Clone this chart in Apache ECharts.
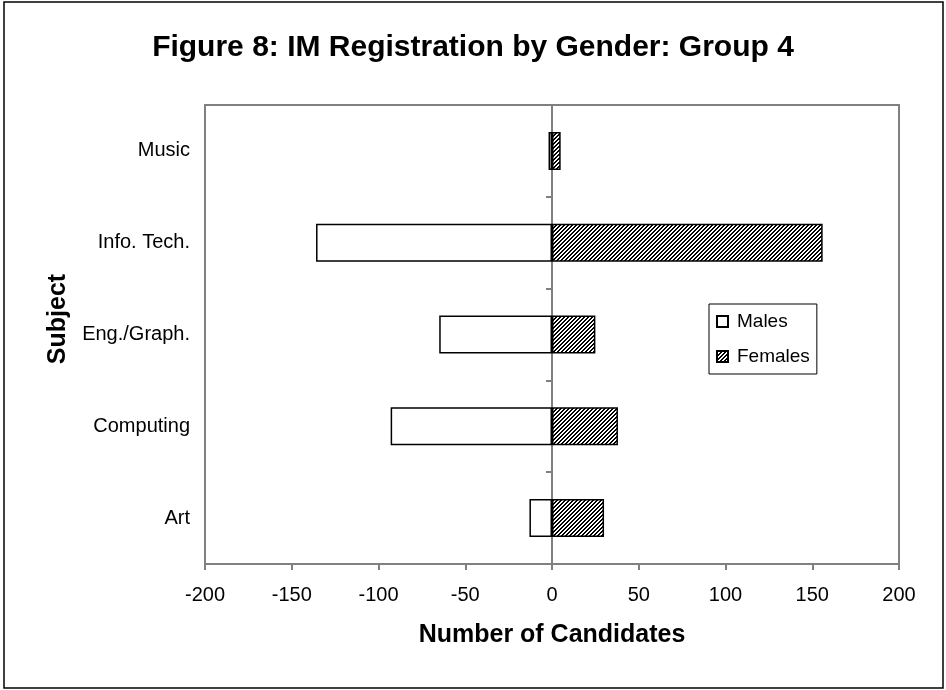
<!DOCTYPE html>
<html><head><meta charset="utf-8">
<script src="https://cdn.jsdelivr.net/npm/echarts@6/dist/echarts.min.js"></script>
<style>html,body{margin:0;padding:0;background:#fff}#c{width:946px;height:690px}</style>
</head><body><div id="c"></div>
<script>
// ---- data ----
const categories = ['Art', 'Computing', 'Eng./Graph.', 'Info. Tech.', 'Music'];
const males = [-13, -93, -65, -136, -2];
const females = [30, 38, 25, 156, 5];
const xMin = -200, xMax = 200, xInterval = 50;

// hatch pattern
function hatch() {
  const c = document.createElement('canvas');
  c.width = 4; c.height = 4;
  const g = c.getContext('2d');
  g.fillStyle = '#fff'; g.fillRect(0, 0, 4, 4);
  g.fillStyle = '#000';
  for (let x = 0; x < 4; x++) for (let y = 0; y < 4; y++) {
    const k = (x + y) % 4;
    if (k === 0 || k === 1) g.fillRect(x, y, 1, 1);
  }
  return c;
}
const FONT = "'Liberation Sans', Arial, sans-serif";
const chart = echarts.init(document.getElementById('c'), null, {renderer: 'canvas'});
chart.setOption({
  animation: false,
  backgroundColor: '#fff',
  title: {
    text: 'Figure 8: IM Registration by Gender: Group 4',
    left: 'center', top: 28,
    textStyle: {fontFamily: FONT, fontSize: 30, fontWeight: 'bold', color: '#000'}
  },
  graphic: [
    {type: 'rect', shape: {x: 4, y: 2, width: 939, height: 686}, style: {fill: 'none', stroke: '#000', lineWidth: 1.5}, silent: true, z: 0},
    {type: 'text', x: 58, y: 319, rotation: Math.PI / 2,
      style: {text: 'Subject', font: "bold 25px 'Liberation Sans', Arial, sans-serif", fill: '#000', align: 'center', verticalAlign: 'middle'}}
  ],
  legend: {
    orient: 'vertical', left: 709, top: 304,
    data: ['Males', 'Females'],
    icon: 'rect', itemWidth: 11, itemHeight: 11, itemGap: 16,
    padding: [8, 7, 8, 7],
    borderColor: '#000', borderWidth: 1,
    textStyle: {fontFamily: FONT, fontSize: 19, color: '#000', padding: [0, 0, 0, 4]}
  },
  grid: {left: 205, top: 105, right: 47, bottom: 126, show: true, borderColor: '#808080', borderWidth: 2, backgroundColor: '#fff'},
  xAxis: {
    type: 'value', min: xMin, max: xMax, interval: xInterval,
    name: 'Number of Candidates', nameLocation: 'middle', nameGap: 59,
    nameTextStyle: {fontFamily: FONT, fontSize: 25, fontWeight: 'bold', color: '#000'},
    axisLine: {show: true, onZero: false, lineStyle: {color: '#808080', width: 2}},
    axisTick: {show: true, length: 6, lineStyle: {color: '#808080', width: 2}},
    axisLabel: {fontFamily: FONT, fontSize: 20, color: '#000', margin: 21},
    splitLine: {show: false}
  },
  yAxis: [{
    type: 'category', data: categories,
    axisLine: {show: false, onZero: false},
    axisTick: {show: false},
    axisLabel: {fontFamily: FONT, fontSize: 20, color: '#000', margin: 15},
    splitLine: {show: false}
  }, {
    type: 'category', data: categories, position: 'left',
    axisLine: {show: true, onZero: true, lineStyle: {color: '#808080', width: 2}},
    axisTick: {show: true, length: 6, lineStyle: {color: '#808080', width: 2}},
    axisLabel: {show: false},
    splitLine: {show: false}
  }],
  series: [{
    name: 'Males', type: 'bar', stack: 'g', data: males, barWidth: 38,
    itemStyle: {color: '#fff', borderColor: '#000', borderWidth: 1.5}
  }, {
    name: 'Females', type: 'bar', stack: 'g', data: females, barWidth: 38,
    itemStyle: {color: {image: hatch(), repeat: 'repeat'}, borderColor: '#000', borderWidth: 1.5}
  }]
});
</script></body></html>
